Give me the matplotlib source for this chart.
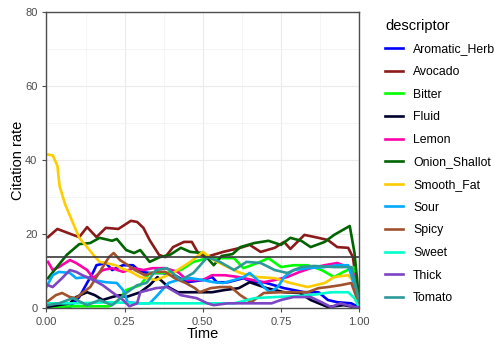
import matplotlib
matplotlib.use("Agg")
import matplotlib.pyplot as plt
from matplotlib.ticker import MultipleLocator

plt.rcParams['font.family'] = ['Liberation Sans', 'DejaVu Sans']

descriptors = ['Aromatic_Herb', 'Avocado', 'Bitter', 'Fluid', 'Lemon', 'Onion_Shallot',
               'Smooth_Fat', 'Sour', 'Spicy', 'Sweet', 'Thick', 'Tomato']
colors = ['#0000FF', '#8B1A1A', '#00FF00', '#00002E', '#FF00AA', '#006400',
          '#FFCC00', '#00AAFF', '#A0522D', '#00FFCC', '#7B45C4', '#2E9999']

# time / citation rate readings per descriptor
aromatic_t = [0.0, 0.04, 0.075, 0.105, 0.13, 0.15, 0.16, 0.19, 0.21, 0.245, 0.277, 0.30, 0.33, 0.37, 0.41,
              0.45, 0.5, 0.53, 0.545, 0.58, 0.63, 0.66, 0.695, 0.76, 0.825, 0.87, 0.9, 0.93, 0.975, 1.0]
aromatic_v = [0.2, 0.3, 0.3, 3.0, 6.8, 9.8, 11.6, 12.2, 10.3, 11.6, 11.6, 9.8, 9.5, 9.5, 8.9,
              7.0, 7.6, 8.4, 7.0, 7.0, 8.1, 7.0, 7.0, 5.4, 4.3, 4.3, 2.2, 1.6, 1.3, 0.2]

avocado_t = [0.005, 0.035, 0.085, 0.105, 0.13, 0.16, 0.19, 0.23, 0.27, 0.29, 0.31, 0.33, 0.36, 0.38, 0.405,
             0.44, 0.465, 0.485, 0.51, 0.565, 0.62, 0.65, 0.685, 0.73, 0.76, 0.78, 0.825, 0.87, 0.90,
             0.93, 0.965, 0.98, 1.0]
avocado_v = [19.2, 21.4, 19.8, 19.2, 21.9, 19.2, 21.7, 21.4, 23.6, 23.3, 21.7, 18.4, 14.4, 13.8, 16.5,
             17.9, 17.9, 14.9, 13.8, 15.2, 16.3, 17.1, 15.2, 16.3, 17.9, 16.0, 19.8, 19.0, 18.4,
             16.5, 16.3, 13.8, 1.5]

bitter_t = [0.0, 0.1, 0.2, 0.225, 0.255, 0.30, 0.33, 0.385, 0.43, 0.47, 0.515, 0.555, 0.6, 0.63, 0.675,
            0.71, 0.75, 0.79, 0.835, 0.88, 0.92, 0.95, 0.985, 1.0]
bitter_v = [0.3, 0.5, 0.5, 1.6, 4.9, 6.2, 9.5, 9.5, 10.3, 12.5, 13.5, 13.5, 13.5, 10.8, 12.2,
            13.5, 11.1, 11.6, 11.6, 10.3, 8.4, 9.8, 11.1, 0.3]

fluid_t = [0.0, 0.075, 0.095, 0.13, 0.155, 0.18, 0.21, 0.235, 0.255, 0.30, 0.33, 0.355, 0.39, 0.42,
           0.475, 0.53, 0.57, 0.615, 0.65, 0.705, 0.76, 0.81, 0.845, 0.9, 0.95, 0.985, 1.0]
fluid_v = [0.3, 1.3, 3.0, 4.3, 3.5, 2.2, 3.0, 3.5, 3.0, 4.3, 6.2, 8.4, 5.7, 4.3,
           4.3, 4.3, 4.9, 5.4, 7.0, 5.4, 4.3, 4.1, 2.2, 0.3, 0.8, 0.3, 0.2]

lemon_t = [0.005, 0.02, 0.04, 0.075, 0.095, 0.13, 0.15, 0.18, 0.21, 0.245, 0.28, 0.31, 0.34, 0.38, 0.42,
           0.45, 0.5, 0.53, 0.57, 0.615, 0.66, 0.695, 0.73, 0.77, 0.81, 0.845, 0.89, 0.93, 0.965,
           0.985, 1.0]
lemon_v = [12.5, 10.3, 11.1, 13.0, 12.2, 10.3, 8.1, 10.3, 10.8, 9.8, 10.8, 10.3, 10.8, 10.8, 9.8,
           7.6, 7.6, 8.9, 8.9, 8.4, 7.6, 7.0, 7.6, 8.4, 9.8, 10.8, 11.6, 12.2, 11.1,
           9.0, 1.0]

onion_t = [0.005, 0.065, 0.105, 0.14, 0.17, 0.21, 0.225, 0.255, 0.28, 0.30, 0.33, 0.363, 0.395, 0.43,
           0.46, 0.50, 0.535, 0.56, 0.595, 0.62, 0.665, 0.71, 0.75, 0.78, 0.815, 0.845, 0.89, 0.92,
           0.97, 0.985, 1.0]
onion_v = [8.1, 14.4, 17.3, 17.6, 19.0, 18.2, 18.7, 15.7, 14.9, 15.7, 12.5, 13.8, 14.4, 16.3,
           15.2, 14.9, 11.6, 14.1, 14.6, 16.5, 17.6, 18.2, 17.1, 19.0, 18.2, 16.5, 17.9, 19.8,
           22.2, 15.0, 2.0]

smooth_t = [0.005, 0.02, 0.035, 0.042, 0.06, 0.085, 0.105, 0.13, 0.15, 0.17, 0.19, 0.22, 0.24, 0.27,
            0.30, 0.35, 0.405, 0.46, 0.50, 0.535, 0.58, 0.62, 0.675, 0.73, 0.78, 0.835, 0.89, 0.92,
            0.965, 0.985, 1.0]
smooth_v = [41.5, 41.3, 38.5, 33.0, 28.0, 23.0, 19.0, 16.5, 14.4, 12.5, 12.2, 11.6, 10.8, 9.8,
            8.4, 7.6, 9.5, 12.5, 15.2, 13.0, 11.1, 9.5, 8.4, 8.1, 6.8, 5.7, 6.8, 8.4,
            8.9, 7.0, 0.5]

sour_t = [0.0, 0.02, 0.04, 0.075, 0.095, 0.13, 0.15, 0.19, 0.225, 0.245, 0.26, 0.3, 0.33, 0.35, 0.37,
          0.39, 0.42, 0.46, 0.5, 0.535, 0.565, 0.6, 0.63, 0.65, 0.675, 0.695, 0.715, 0.74, 0.76,
          0.79, 0.835, 0.89, 0.93, 0.965, 0.985, 1.0]
sour_v = [5.7, 8.9, 9.8, 9.5, 8.1, 8.4, 7.6, 7.0, 6.8, 4.9, 1.6, 1.3, 1.3, 3.0, 4.9,
          6.8, 7.6, 8.1, 7.6, 7.0, 6.8, 7.6, 8.4, 9.5, 7.6, 5.7, 4.3, 5.7, 8.4,
          10.3, 10.8, 11.1, 11.6, 11.6, 6.0, 0.3]

spicy_t = [0.0, 0.03, 0.05, 0.075, 0.095, 0.115, 0.14, 0.16, 0.18, 0.2, 0.215, 0.235, 0.25, 0.283,
           0.315, 0.35, 0.38, 0.41, 0.445, 0.475, 0.49, 0.525, 0.555, 0.59, 0.62, 0.655, 0.695, 0.75,
           0.835, 0.87, 0.9, 0.94, 0.975, 1.0]
spicy_v = [1.6, 3.5, 4.1, 3.0, 2.7, 4.1, 5.7, 8.4, 11.1, 13.8, 14.9, 13.0, 12.2, 10.3,
           8.9, 9.8, 9.8, 8.1, 6.8, 5.4, 4.3, 5.4, 5.7, 5.7, 3.5, 1.6, 4.1, 4.3,
           4.3, 5.4, 5.7, 6.2, 6.8, 1.0]

sweet_t = [0.0, 0.1, 0.2, 0.3, 0.4, 0.5, 0.6, 0.665, 0.73, 0.815, 0.87, 0.91, 0.965, 0.985, 1.0]
sweet_v = [1.3, 1.3, 1.6, 1.3, 1.3, 1.3, 1.3, 2.7, 3.0, 3.3, 3.8, 4.3, 4.3, 2.7, 0.2]

thick_t = [0.005, 0.02, 0.05, 0.075, 0.095, 0.115, 0.15, 0.18, 0.21, 0.245, 0.265, 0.29, 0.30, 0.35,
           0.385, 0.43, 0.48, 0.515, 0.535, 0.58, 0.65, 0.72, 0.75, 0.79, 0.845, 0.88, 0.91, 0.94,
           0.985, 1.0]
thick_v = [6.2, 5.7, 8.1, 10.3, 9.8, 8.9, 7.6, 6.2, 4.3, 2.2, 0.5, 1.3, 4.3, 5.4,
           5.7, 3.5, 2.7, 1.3, 0.8, 1.3, 1.3, 1.3, 2.2, 3.0, 3.0, 1.6, 0.3, 1.3,
           0.3, 0.2]

tomato_t = [0.005, 0.04, 0.085, 0.13, 0.17, 0.21, 0.255, 0.29, 0.32, 0.35, 0.385, 0.43, 0.47, 0.515,
            0.555, 0.6, 0.64, 0.685, 0.73, 0.77, 0.815, 0.855, 0.92, 0.975, 1.0]
tomato_v = [0.8, 1.3, 2.7, 0.8, 2.2, 0.8, 4.1, 6.2, 6.8, 10.3, 10.8, 7.6, 9.5, 13.8,
            12.5, 10.3, 12.5, 12.2, 10.3, 9.5, 11.1, 11.4, 11.1, 11.1, 2.0]

series_t = [aromatic_t, avocado_t, bitter_t, fluid_t, lemon_t, onion_t,
            smooth_t, sour_t, spicy_t, sweet_t, thick_t, tomato_t]
series_v = [aromatic_v, avocado_v, bitter_v, fluid_v, lemon_v, onion_v,
            smooth_v, sour_v, spicy_v, sweet_v, thick_v, tomato_v]

threshold = 13.8

fig = plt.figure(figsize=(4.94, 3.47), dpi=100)
ax = fig.add_axes([0.094, 0.112, 0.633, 0.853])

for name, c, t, v in zip(descriptors, colors, series_t, series_v):
    ax.plot(t, v, color=c, lw=1.9, label=name, solid_joinstyle='round')

ax.axhline(threshold, color='#3A3A3A', lw=1.2)

ax.set_xlim(0, 1)
ax.set_ylim(0, 80)
ax.set_xticks([0, 0.25, 0.5, 0.75, 1.0])
ax.set_xticklabels(['0.00', '0.25', '0.50', '0.75', '1.00'])
ax.set_yticks([0, 20, 40, 60, 80])
ax.xaxis.set_minor_locator(MultipleLocator(0.125))
ax.yaxis.set_minor_locator(MultipleLocator(10))
ax.grid(which='major', color='#EBEBEB', lw=0.8)
ax.grid(which='minor', color='#F2F2F2', lw=0.5)
ax.set_axisbelow(True)
for s in ax.spines.values():
    s.set_color('#4D4D4D')
    s.set_linewidth(1.0)
ax.tick_params(which='major', length=3, color='#4D4D4D', labelcolor='#4D4D4D', labelsize=8)
ax.tick_params(which='minor', length=0)
ax.set_xlabel('Time', fontsize=10.5, labelpad=0)
ax.set_ylabel('Citation rate', fontsize=10.5, labelpad=0)

fig.legend(loc='upper left', bbox_to_anchor=(0.757, 0.978), frameon=False,
           title='descriptor', title_fontsize=10.5, fontsize=8.8, handlelength=1.5,
           labelspacing=0.87, handletextpad=0.8, alignment='left')

fig.savefig('out.png', dpi=100)
